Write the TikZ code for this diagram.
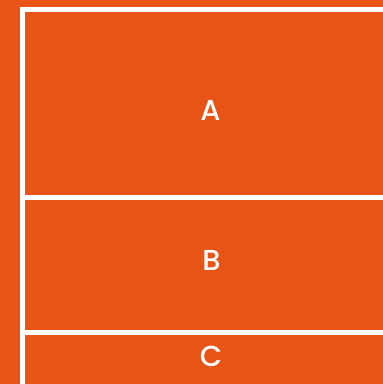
\documentclass[tikz,border=0pt]{standalone}
\usepackage{fontspec}
\setmainfont{Poppins}
\newfontfamily\lblfont{Poppins Medium}
\definecolor{bgorange}{HTML}{E85416}
\tikzset{
  divider/.style={draw=white, line width=5bp},
  panellabel/.style={text=white, font=\fontsize{29}{29}\lblfont, inner sep=0pt, anchor=center}
}
\begin{document}
\begin{tikzpicture}[x=1bp,y=-1bp]
\fill[bgorange] (0,0) rectangle (383,384);
\useasboundingbox (0,0) rectangle (383,384);
\coordinate (vtop) at (22.5,7);
\coordinate (vbot) at (22.5,384);
\coordinate (t1) at (20,9.5);
\coordinate (t2) at (383,9.5);
\coordinate (m1) at (25,197.5);
\coordinate (m2) at (383,197.5);
\coordinate (b1) at (25,332.5);
\coordinate (b2) at (383,332.5);
\draw[divider] (vtop) -- (vbot);
\draw[divider] (t1) -- (t2);
\draw[divider] (m1) -- (m2);
\draw[divider] (b1) -- (b2);
\node[panellabel] (A) at (210.5,110.5) {A};
\node[panellabel] (B) at (211.5,260.5) {B};
\node[panellabel] (C) at (211,356) {C};
\end{tikzpicture}
\end{document}
